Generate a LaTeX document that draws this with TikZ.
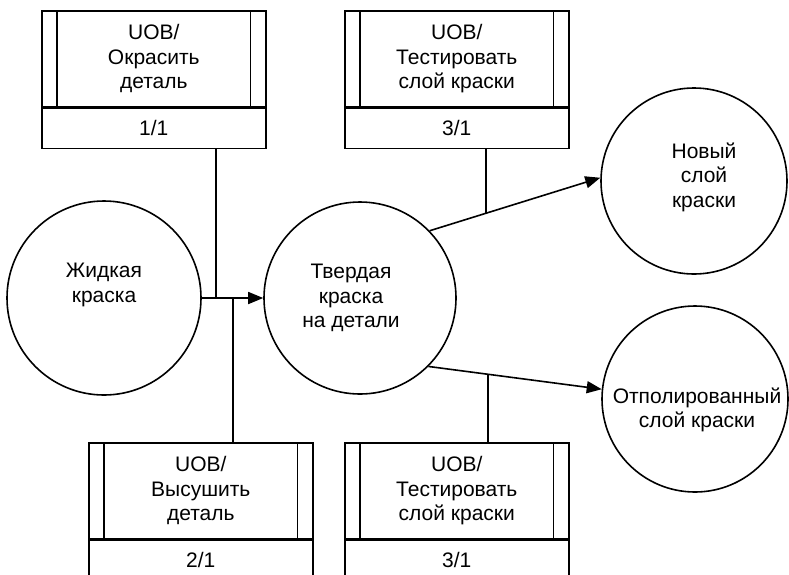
\documentclass[tikz,border=0pt]{standalone}
\usepackage{fontspec}
\setmainfont{Liberation Sans}
\usetikzlibrary{arrows.meta}
\begin{document}
\begin{tikzpicture}[x=1pt,y=-1pt,line width=1.6pt,
  txt/.style={font=\fontsize{21}{24.5}\selectfont,align=center,inner sep=0pt},
  procbox/.style={draw,rectangle,minimum width=224pt,minimum height=96pt,anchor=north west,inner sep=0pt,
    font=\fontsize{21}{24.5}\selectfont,align=center},
  numbox/.style={draw,rectangle,minimum width=224pt,minimum height=40pt,anchor=north,inner sep=0pt,
    font=\fontsize{21}{24.5}\selectfont},
  circ/.style={draw,circle,inner sep=0pt},
  arr/.style={-{Triangle[length=15pt,width=12pt]}}]
\useasboundingbox (0,0) rectangle (789,574);
\clip (0,0) rectangle (789,574);
\fill[white] (0,0) rectangle (789,574);

% process boxes
\node[procbox] (b1) at (41,10) {UOB/\\Окрасить\\деталь};
\node[numbox] (b1n) at (b1.south) {1/1};
\node[procbox] (b3) at (344,10) {UOB/\\Тестировать\\слой краски};
\node[numbox] (b3n) at (b3.south) {3/1};
\node[procbox] (b2) at (88,442) {UOB/\\Высушить\\деталь};
\node[numbox] (b2n) at (b2.south) {2/1};
\node[procbox] (b4) at (344,442) {UOB/\\Тестировать\\слой краски};
\node[numbox] (b4n) at (b4.south) {3/1};
\foreach \b in {b1,b2,b3,b4}{
  \draw ([xshift=16pt]\b.north west) -- ([xshift=16pt]\b.south west);
  \draw ([xshift=-16pt]\b.north east) -- ([xshift=-16pt]\b.south east);
}

% circles
\node[circ,minimum size=194pt] (c1) at (104,298) {};
\node[txt] (t1) at (104,285) {Жидкая\\краска};
\node[circ,minimum size=192pt] (c2) at (360,298) {};
\node[txt] (t2) at (351,298) {Твердая\\краска\\на детали};
\node[circ,minimum size=186pt] (c3) at (694,181) {};
\node[txt] (t3) at (704,177) {Новый\\слой\\краски};
\node[circ,minimum size=186pt] (c4) at (695,399) {};
\node[txt] (t4) at (697,410) {Отполированный\\слой краски};

% connectors
\draw[arr] (c1.east) -- (c2.west);
\coordinate (j1) at (216,298);
\coordinate (j2) at (233,298);
\draw (b1n.south -| j1) -- (j1);
\draw (j2) -- (j2 |- b2.north);

\draw[arr] (c2.44) -- (c3.178);
\path (c2.44) -- (c3.178) coordinate[pos=0.33] (j3);
\draw (b3n.south -| j3) -- (j3);

\draw[arr] (c2.-45) -- (c4.174);
\path (c2.-45) -- (c4.174) coordinate[pos=0.345] (j4);
\draw (j4) -- (j4 |- b4.north);
\end{tikzpicture}
\end{document}
